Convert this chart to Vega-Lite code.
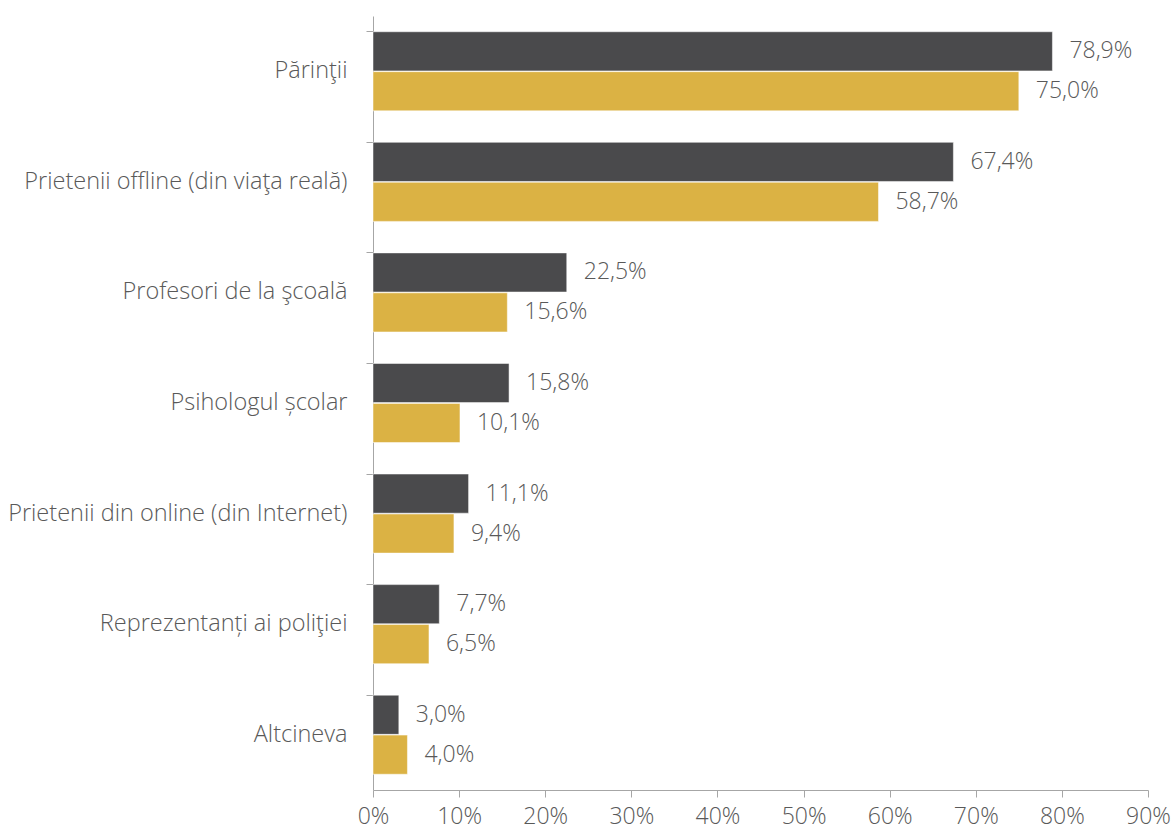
{
  "$schema": "https://vega.github.io/schema/vega-lite/v6.json",
  "width": 775,
  "height": 774,
  "autosize": {"type": "none"},
  "padding": {"left": 373, "top": 16, "right": 27, "bottom": 41},
  "background": "white",
  "config": {
    "view": {"stroke": null},
    "font": "Open Sans",
    "locale": {"number": {"decimal": ",", "thousands": ".", "grouping": [3], "currency": ["", " €"]}}
  },
  "data": {
    "values": [
      {"cat": "Părinţii", "serie": "Seria 1", "value": 0.789},
      {"cat": "Părinţii", "serie": "Seria 2", "value": 0.750},
      {"cat": "Prietenii offline (din viaţa reală)", "serie": "Seria 1", "value": 0.674},
      {"cat": "Prietenii offline (din viaţa reală)", "serie": "Seria 2", "value": 0.587},
      {"cat": "Profesori de la şcoală", "serie": "Seria 1", "value": 0.225},
      {"cat": "Profesori de la şcoală", "serie": "Seria 2", "value": 0.156},
      {"cat": "Psihologul școlar", "serie": "Seria 1", "value": 0.158},
      {"cat": "Psihologul școlar", "serie": "Seria 2", "value": 0.101},
      {"cat": "Prietenii din online (din Internet)", "serie": "Seria 1", "value": 0.111},
      {"cat": "Prietenii din online (din Internet)", "serie": "Seria 2", "value": 0.094},
      {"cat": "Reprezentanți ai poliţiei", "serie": "Seria 1", "value": 0.077},
      {"cat": "Reprezentanți ai poliţiei", "serie": "Seria 2", "value": 0.065},
      {"cat": "Altcineva", "serie": "Seria 1", "value": 0.030},
      {"cat": "Altcineva", "serie": "Seria 2", "value": 0.040}
    ]
  },
  "encoding": {
    "y": {
      "field": "cat", "type": "nominal", "sort": null, "title": null,
      "scale": {"paddingInner": 0.285, "paddingOuter": 0.1425},
      "axis": {
        "bandPosition": 0, "domainColor": "#a6a6a6", "tickColor": "#a6a6a6",
        "tickSize": 7, "labelPadding": 19, "labelFontSize": 23.5, "labelColor": "#595959",
        "labelFont": "Open Sans", "labelFontWeight": 300, "labelLimit": 400
      }
    },
    "yOffset": {"field": "serie", "type": "nominal", "scale": {"paddingInner": 0.02}},
    "x": {
      "field": "value", "type": "quantitative", "title": null,
      "scale": {"domain": [0, 0.9], "nice": false},
      "axis": {
        "format": ".0%", "values": [0,0.1,0.2,0.3,0.4,0.5,0.6,0.7,0.8,0.9],
        "labelOverlap": false, "labelFlush": false,
        "grid": false, "domainColor": "#a6a6a6", "tickColor": "#a6a6a6", "tickSize": 7,
        "labelPadding": 8, "labelFontSize": 23, "labelColor": "#595959",
        "labelFont": "Open Sans", "labelFontWeight": 300
      }
    }
  },
  "layer": [
    {
      "mark": {"type": "bar", "stroke": "white", "strokeWidth": 0.5},
      "encoding": {
        "color": {
          "field": "serie", "type": "nominal", "legend": null,
          "scale": {"domain": ["Seria 1", "Seria 2"], "range": ["#4a4a4c", "#dbb244"]}
        }
      }
    },
    {
      "mark": {"type": "text", "align": "left", "baseline": "middle", "dx": 17, "fontSize": 23, "font": "Open Sans", "fontWeight": 300, "color": "#595959"},
      "encoding": {
        "text": {"field": "value", "type": "quantitative", "format": ".1%"}
      }
    }
  ]
}
